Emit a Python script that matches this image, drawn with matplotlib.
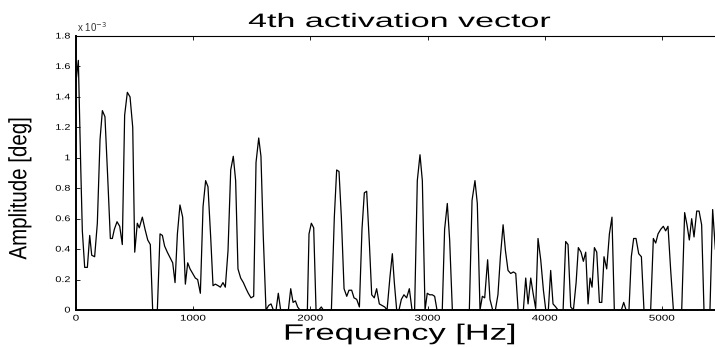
import numpy as np
import matplotlib
matplotlib.use("Agg")
import matplotlib.pyplot as plt
from matplotlib.ticker import FuncFormatter
from matplotlib.patheffects import AbstractPathEffect
from matplotlib.transforms import Affine2D

# frequency bins [Hz] and amplitude of the 4th activation vector [x 1e-3 deg]
freq_hz = [
    0, 20, 40, 54, 74, 97, 117, 134, 159, 182,
    205, 225, 247, 270, 293, 310, 327, 350, 373, 395,
    415, 438, 461, 484, 501, 523, 540, 566, 589, 612,
    634, 654, 694, 717, 737, 756, 779, 805, 825, 845,
    865, 887, 910, 933, 953, 973, 995, 1018, 1038, 1061,
    1084, 1106, 1126, 1149, 1169, 1189, 1212, 1232, 1254, 1274,
    1297, 1320, 1342, 1362, 1382, 1405, 1428, 1451, 1470, 1493,
    1516, 1536, 1559, 1578, 1598, 1621, 1644, 1664, 1684, 1707,
    1726, 1746, 1812, 1832, 1852, 1872, 1891, 1911, 1974, 1988,
    2008, 2028, 2048, 2071, 2093, 2110, 2179, 2204, 2224, 2244,
    2264, 2287, 2310, 2329, 2352, 2372, 2395, 2418, 2440, 2460,
    2480, 2503, 2523, 2545, 2565, 2588, 2611, 2634, 2654, 2679,
    2699, 2716, 2736, 2756, 2776, 2798, 2821, 2844, 2867, 2889,
    2912, 2935, 2955, 2978, 2997, 3017, 3040, 3060, 3080, 3125,
    3145, 3168, 3188, 3211, 3356, 3379, 3404, 3424, 3447, 3467,
    3487, 3512, 3532, 3555, 3578, 3600, 3621, 3644, 3664, 3686,
    3709, 3732, 3752, 3772, 3817, 3837, 3857, 3880, 3900, 3922,
    3942, 3965, 3988, 4008, 4030, 4050, 4070, 4093, 4113, 4156,
    4178, 4198, 4221, 4244, 4267, 4286, 4309, 4329, 4349, 4369,
    4386, 4403, 4423, 4443, 4466, 4486, 4505, 4528, 4551, 4573,
    4593, 4653, 4673, 4693, 4718, 4738, 4758, 4778, 4801, 4824,
    4846, 4903, 4926, 4946, 4966, 4989, 5011, 5031, 5051, 5074,
    5097, 5168, 5193, 5213, 5233, 5253, 5273, 5296, 5316, 5338,
    5358, 5409, 5432, 5455,
]
amp_e3 = [
    1.50, 1.64, 0.95, 0.52, 0.28, 0.28, 0.49, 0.36, 0.35, 0.57,
    1.12, 1.31, 1.27, 0.88, 0.47, 0.47, 0.53, 0.58, 0.55, 0.43,
    1.28, 1.43, 1.40, 1.20, 0.38, 0.57, 0.54, 0.61, 0.53, 0.46,
    0.43, 0.00, 0.00, 0.50, 0.49, 0.42, 0.38, 0.34, 0.31, 0.18,
    0.50, 0.69, 0.61, 0.17, 0.31, 0.27, 0.24, 0.21, 0.20, 0.11,
    0.68, 0.85, 0.81, 0.48, 0.16, 0.17, 0.16, 0.15, 0.18, 0.15,
    0.39, 0.92, 1.01, 0.85, 0.27, 0.21, 0.18, 0.14, 0.11, 0.08,
    0.09, 0.97, 1.13, 1.01, 0.48, 0.00, 0.03, 0.04, 0.00, 0.00,
    0.11, 0.00, 0.00, 0.14, 0.05, 0.06, 0.02, 0.00, 0.00, 0.50,
    0.57, 0.54, 0.00, 0.00, 0.02, 0.00, 0.00, 0.61, 0.92, 0.91,
    0.61, 0.14, 0.09, 0.13, 0.13, 0.08, 0.07, 0.02, 0.53, 0.77,
    0.78, 0.44, 0.10, 0.08, 0.14, 0.04, 0.03, 0.02, 0.00, 0.22,
    0.37, 0.18, 0.00, 0.00, 0.07, 0.10, 0.08, 0.14, 0.00, 0.00,
    0.85, 1.02, 0.85, 0.00, 0.11, 0.10, 0.10, 0.09, 0.00, 0.00,
    0.53, 0.70, 0.46, 0.00, 0.00, 0.72, 0.85, 0.70, 0.00, 0.09,
    0.08, 0.33, 0.07, 0.00, 0.00, 0.10, 0.35, 0.56, 0.39, 0.26,
    0.24, 0.25, 0.24, 0.00, 0.00, 0.21, 0.04, 0.21, 0.11, 0.01,
    0.47, 0.33, 0.13, 0.00, 0.00, 0.26, 0.04, 0.02, 0.00, 0.00,
    0.45, 0.43, 0.02, 0.00, 0.18, 0.41, 0.38, 0.32, 0.38, 0.04,
    0.21, 0.15, 0.41, 0.38, 0.05, 0.05, 0.35, 0.27, 0.50, 0.61,
    0.00, 0.00, 0.05, 0.00, 0.00, 0.35, 0.47, 0.47, 0.37, 0.35,
    0.00, 0.00, 0.47, 0.44, 0.50, 0.53, 0.55, 0.52, 0.55, 0.26,
    0.00, 0.00, 0.64, 0.56, 0.46, 0.60, 0.48, 0.65, 0.65, 0.56,
    0.00, 0.00, 0.66, 0.40,
]
x_ticks = [0, 1000, 2000, 3000, 4000, 5000]
y_ticks_e3 = [0, 0.2, 0.4, 0.6, 0.8, 1, 1.2, 1.4, 1.6, 1.8]


class Stretch(AbstractPathEffect):
    # widen/narrow text glyphs along the baseline, keeping one anchor fixed
    def __init__(self, sx, anchor='center'):
        super().__init__()
        self.sx = sx
        self.anchor = anchor

    def draw_path(self, renderer, gc, tpath, affine, rgbFace=None):
        ext = tpath.get_extents()
        if self.anchor == 'right':
            cx = ext.x1
        elif self.anchor == 'left':
            cx = ext.x0
        else:
            cx = (ext.x0 + ext.x1) / 2
        st = Affine2D().translate(-cx, 0).scale(self.sx, 1).translate(cx, 0)
        renderer.draw_path(gc, tpath, st + affine, rgbFace)


plt.rcParams['font.family'] = ['Liberation Sans', 'DejaVu Sans']

fig = plt.figure(figsize=(7.15, 3.47), dpi=100)
ax = fig.add_axes([0.1063, 0.1066, 0.8937, 0.7896])

amp = np.array(amp_e3) * 1e-3
ax.plot(freq_hz, amp, color='black', linewidth=0.9)

ax.set_xlim(0, 5452)
ax.set_ylim(0, 1.8e-3)
ax.set_xticks(x_ticks)
ax.set_yticks([v * 1e-3 for v in y_ticks_e3])
ax.yaxis.set_major_formatter(FuncFormatter(lambda v, p: '%g' % round(v * 1e3, 3)))
ax.tick_params(direction='in', length=3, width=0.6, labelsize=6,
               top=True, right=False, pad=4)
ax.spines['right'].set_visible(False)
for s in ['left', 'bottom']:
    ax.spines[s].set_linewidth(1.4)
ax.spines['top'].set_linewidth(0.8)

for t in ax.xaxis.get_major_ticks():
    t.label1.set_path_effects([Stretch(1.4)])
for t in ax.yaxis.get_major_ticks():
    t.label1.set_path_effects([Stretch(1.3, 'right')])

# exponent shown above the y axis
ax.text(0.002, 1.008, r'x 10$^{-3}$', transform=ax.transAxes,
        fontsize=7, ha='left', va='bottom', color='#333333')

title = ax.set_title('4th activation vector', fontsize=14, pad=6.5, x=0.507)
title.set_path_effects([Stretch(1.75)])

xl = ax.set_xlabel('Frequency [Hz]', fontsize=16)
ax.xaxis.set_label_coords(0.507, -0.05)
xl.set_path_effects([Stretch(1.55)])

yl = ax.set_ylabel('Amplitude [deg]', fontsize=18)
ax.yaxis.set_label_coords(-0.070, 0.443)
yl.set_path_effects([Stretch(0.82)])

fig.savefig('out.png', dpi=100)
